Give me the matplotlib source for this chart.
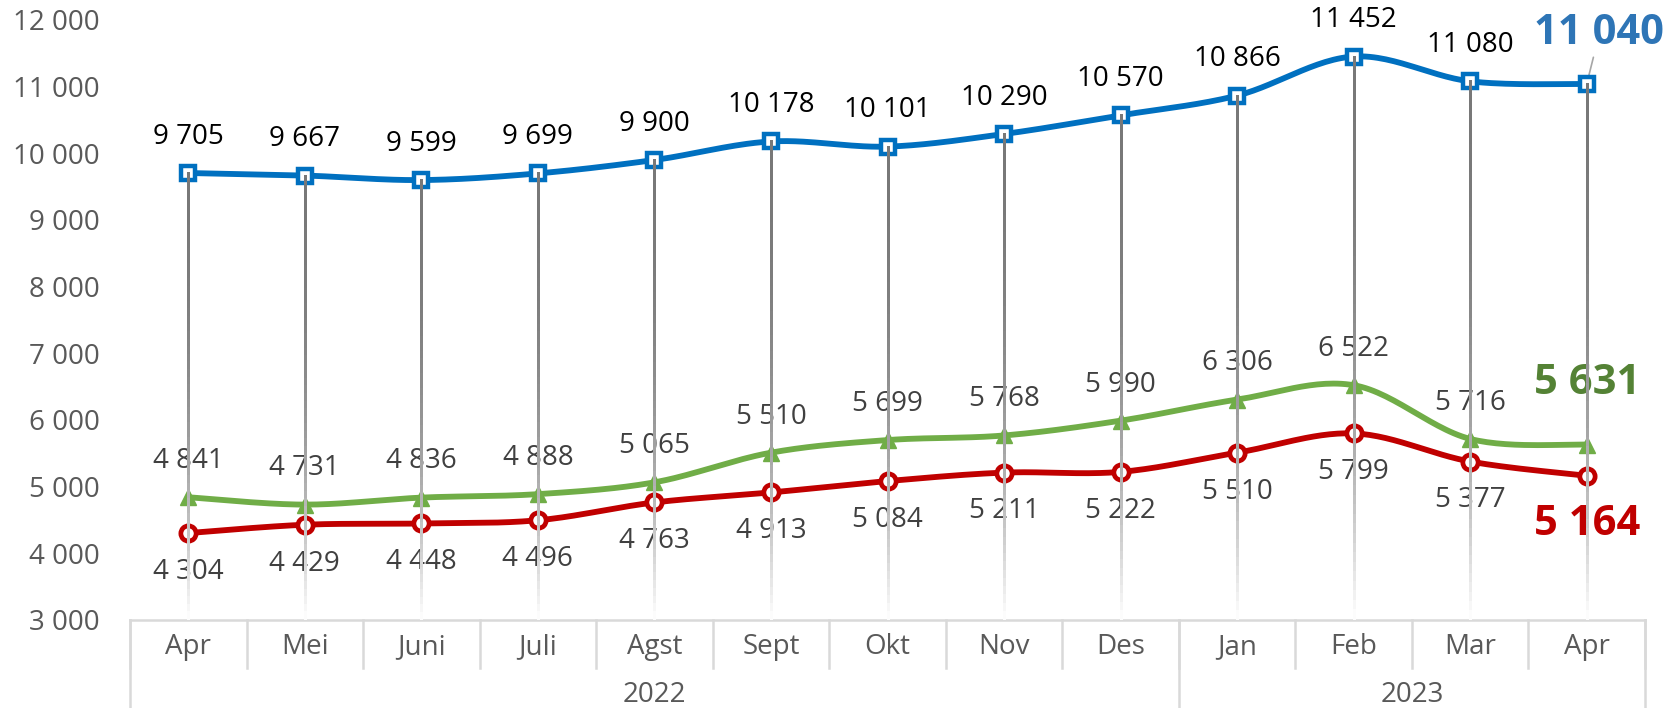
import numpy as np
import matplotlib
matplotlib.use("Agg")
import matplotlib.pyplot as plt
from matplotlib.collections import LineCollection
import matplotlib.transforms as mtransforms

plt.rcParams['font.family'] = ['Open Sans', 'DejaVu Sans']

months = ['Apr', 'Mei', 'Juni', 'Juli', 'Agst', 'Sept', 'Okt', 'Nov', 'Des',
          'Jan', 'Feb', 'Mar', 'Apr']
years = ['2022', '2023']
year_counts = [9, 4]

total = [9705, 9667, 9599, 9699, 9900, 10178, 10101, 10290, 10570, 10866, 11452, 11080, 11040]
green = [4841, 4731, 4836, 4888, 5065, 5510, 5699, 5768, 5990, 6306, 6522, 5716, 5631]
red = [4304, 4429, 4448, 4496, 4763, 4913, 5084, 5211, 5222, 5510, 5799, 5377, 5164]

BLUE = '#0070C0'
GREEN = '#70AD47'
RED = '#C00000'
AXIS_GREY = '#D9D9D9'
TEXT_GREY = '#595959'


def fmt(v):
    return f'{v:,}'.replace(',', ' ')


def smooth(xs, ys, n=30):
    # catmull-rom style bezier, like Excel smoothed lines
    p = np.column_stack([xs, ys]).astype(float)
    ext = np.vstack([p[0], p, p[-1]])
    out = []
    for i in range(len(p) - 1):
        p0, p1, p2, p3 = ext[i], ext[i + 1], ext[i + 2], ext[i + 3]
        c1 = p1 + (p2 - p0) / 6
        c2 = p2 - (p3 - p1) / 6
        t = np.linspace(0, 1, n)[:, None]
        seg = (1 - t)**3 * p1 + 3 * (1 - t)**2 * t * c1 + 3 * (1 - t) * t**2 * c2 + t**3 * p2
        out.append(seg if i == 0 else seg[1:])
    out = np.vstack(out)
    return out[:, 0], out[:, 1]


fig = plt.figure(figsize=(16.71, 7.08), dpi=100)
ax = fig.add_axes([130 / 1671, 88 / 708, 1515 / 1671, 600 / 708])
x = np.arange(len(months))
ax.set_xlim(-0.5, len(months) - 0.5)
ax.set_ylim(3000, 12000)

# series lines
for vals, col in [(total, BLUE), (green, GREEN), (red, RED)]:
    sx, sy = smooth(x, vals)
    ax.plot(sx, sy, color=col, lw=4.2, solid_capstyle='round', zorder=3)

ax.plot(x, total, ls='none', marker='s', ms=9.5, mfc='white', mec=BLUE, mew=3.2, zorder=4)
ax.plot(x, green, ls='none', marker='^', ms=12, mfc=GREEN, mec=GREEN, mew=1, zorder=4)
ax.plot(x, red, ls='none', marker='o', ms=11, mfc='white', mec=RED, mew=3.4, zorder=4)

# drop lines fading toward the axis
segs, cols = [], []
base = np.array([0.47, 0.47, 0.47])
for xi, top in zip(x, total):
    ys = np.linspace(top, 3000, 60)
    for j in range(len(ys) - 1):
        t = (j + 0.5) / (len(ys) - 1)
        f = min(1.0, t**2.5)
        segs.append([(xi, ys[j]), (xi, ys[j + 1])])
        cols.append(tuple(base + (1 - base) * f))
ax.add_collection(LineCollection(segs, colors=cols, linewidths=2.0, capstyle='projecting',
                                 antialiased=False, zorder=5))

# data labels
for i in range(len(months) - 1):
    ax.annotate(fmt(total[i]), (x[i], total[i]), xytext=(0, 26), textcoords='offset points',
                ha='center', va='center', fontsize=20, color='black')
    ax.annotate(fmt(green[i]), (x[i], green[i]), xytext=(0, 26), textcoords='offset points',
                ha='center', va='center', fontsize=20, color='#404040')
    ax.annotate(fmt(red[i]), (x[i], red[i]), xytext=(0, -28), textcoords='offset points',
                ha='center', va='center', fontsize=20, color='#404040')

last = len(months) - 1
ax.annotate(fmt(total[last]), (x[last], total[last]), xytext=(9, 36), textcoords='offset points',
            ha='center', va='center', fontsize=30, fontweight='bold', color='#2E75B6',
            arrowprops=dict(arrowstyle='-', color='#A6A6A6', lw=1.2, shrinkA=0, shrinkB=0))
ax.annotate(fmt(green[last]), (x[last], green[last]), xytext=(0, 44), textcoords='offset points',
            ha='center', va='center', fontsize=30, fontweight='bold', color='#548235')
ax.annotate(fmt(red[last]), (x[last], red[last]), xytext=(0, -35), textcoords='offset points',
            ha='center', va='center', fontsize=30, fontweight='bold', color=RED)

# y axis
ax.set_yticks(np.arange(3000, 12001, 1000))
ax.set_yticklabels([fmt(v) for v in range(3000, 12001, 1000)])
ax.tick_params(axis='y', length=0, pad=22, labelsize=20, labelcolor=TEXT_GREY)
ax.set_xticks([])
for s in ax.spines.values():
    s.set_visible(False)

# two-level category axis
tr = mtransforms.blended_transform_factory(ax.transData, ax.transAxes)
row1 = -48 / 600
row2 = -88 / 600
lkw = dict(color=AXIS_GREY, lw=1.8, transform=tr, clip_on=False, zorder=1)
ax.plot([-0.5, last + 0.5], [0, 0], **lkw)
for b in np.arange(-0.5, last + 1):
    ax.plot([b, b], [0, row1], **lkw)
start = -0.5
for yr, cnt in zip(years, year_counts):
    ax.plot([start, start], [0, row2], **lkw)
    ax.text(start + cnt / 2, -75 / 600, yr, transform=tr, ha='center', va='center',
            fontsize=20, color=TEXT_GREY)
    start += cnt
ax.plot([start, start], [0, row2], **lkw)
for xi, m in zip(x, months):
    ax.text(xi, -27 / 600, m, transform=tr, ha='center', va='center', fontsize=20, color=TEXT_GREY)

fig.savefig('out.png', dpi=100)
